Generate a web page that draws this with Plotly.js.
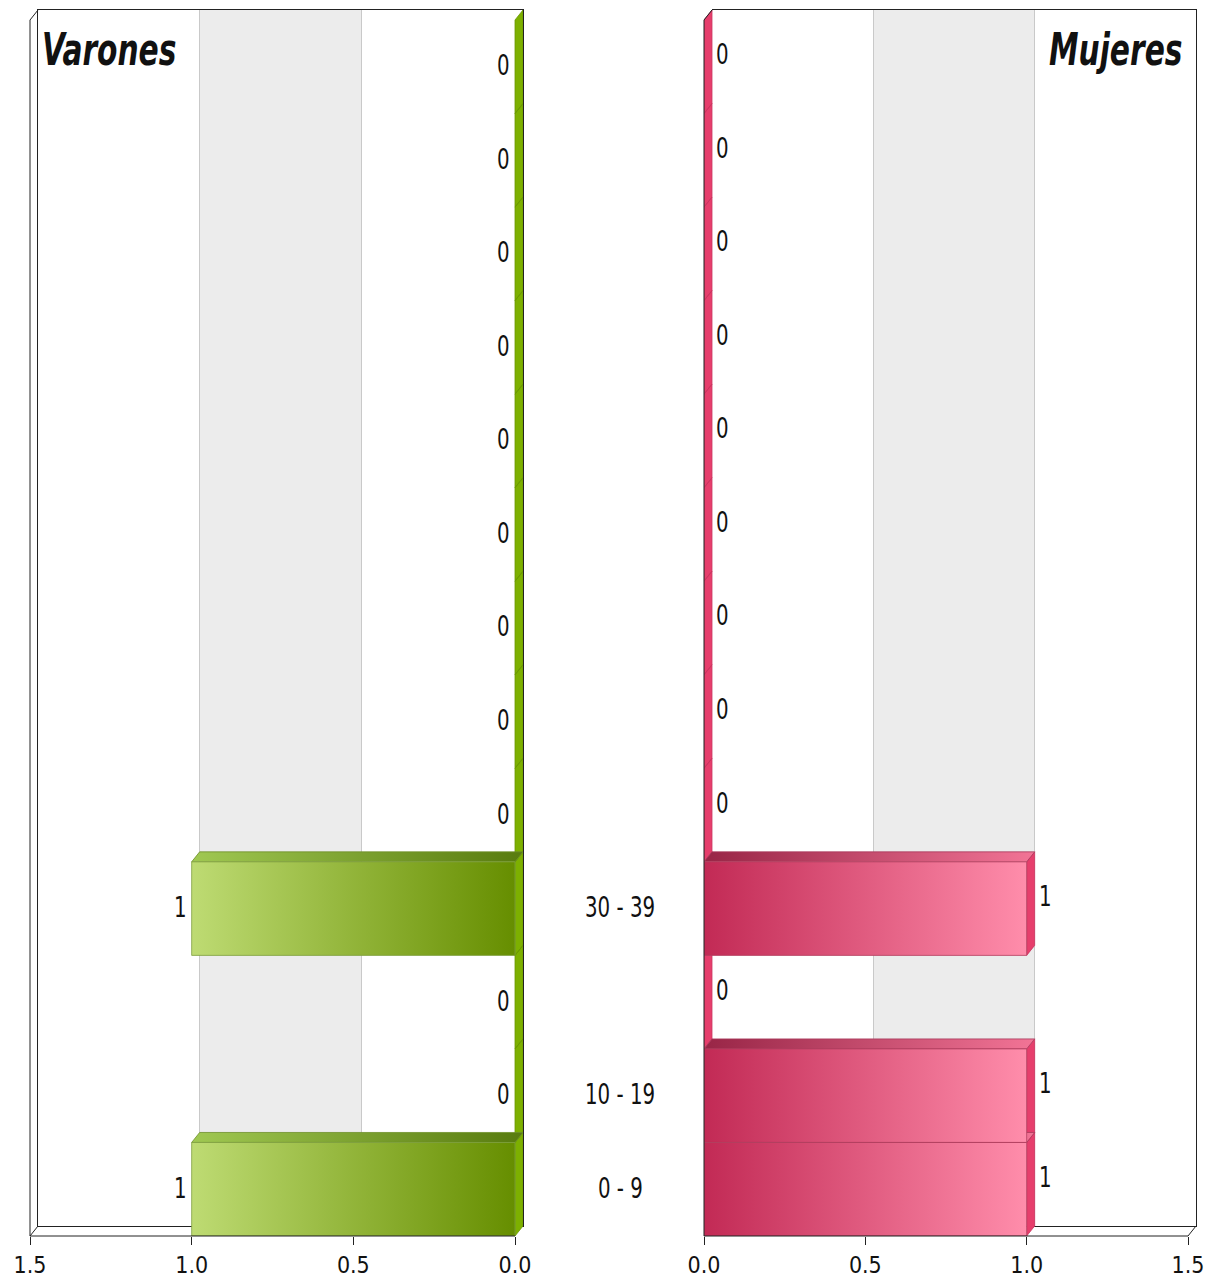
<!DOCTYPE html>
<html><head><meta charset="utf-8">
<script src="https://cdn.plot.ly/plotly-3.0.1.min.js"></script>
<style>html,body{margin:0;padding:0;background:#fff}</style>
</head><body><div id="chart" style="width:1212px;height:1284px"></div>
<script>
// ---------------- data ----------------
const ageGroups = ['0 - 9','10 - 19','20 - 29','30 - 39','40 - 49','50 - 59','60 - 69','70 - 79','80 - 89','90 - 99','100 - 109','110 - 119','120 - 129'];
const varones = [1, 0, 0, 1, 0, 0, 0, 0, 0, 0, 0, 0, 0];
const mujeres = [1, 1, 0, 1, 0, 0, 0, 0, 0, 0, 0, 0, 0];
const panelTitles = ['Varones', 'Mujeres'];
const xTickVals = [0, 0.5, 1.0, 1.5];
const xTickText = ['0.0', '0.5', '1.0', '1.5'];

// ---------------- geometry (pixels) ----------------
const W = 1212, H = 1284;
const LX0 = 30, LX1 = 515;     // left panel front plot (1.5 .. 0)
const RX0 = 704, RX1 = 1188;   // right panel front plot (0 .. 1.5)
const FY0 = 20, FY1 = 1236;    // front plot top/bottom
const DX = 8, DY = 10;         // 3D depth offset
const XMAX = 1.5, N = ageGroups.length;
const px = v => v / W, py = v => 1 - v / H;

// depth expressed in data units
const ddxL = DX * XMAX / (LX1 - LX0);
const ddxR = DX * XMAX / (RX1 - RX0);
const ddy = DY * N / (FY1 - FY0);

const COND = '"DejaVu Sans Condensed", "DejaVu Sans", sans-serif';
const INK = '#111';

function polys(vals, faceFn) {
  const xs = [], ys = [];
  vals.forEach((v, i) => {
    const p = faceFn(v, i);
    if (!p) return;
    p.forEach(pt => { xs.push(pt[0]); ys.push(pt[1]); });
    xs.push(p[0][0]); ys.push(p[0][1]);
    xs.push(null); ys.push(null);
  });
  return {x: xs, y: ys};
}

// Left panel (reversed axis: pixel-right = smaller data value)
const lSide = polys(varones, (v, i) => [[0, i - 0.5], [0, i + 0.5], [-ddxL, i + 0.5 + ddy], [-ddxL, i - 0.5 + ddy]]);
const lTop = polys(varones, (v, i) => v > 0 ? [[v, i + 0.5], [0, i + 0.5], [-ddxL, i + 0.5 + ddy], [v - ddxL, i + 0.5 + ddy]] : null);
const lFront = polys(varones, (v, i) => v > 0 ? [[v, i - 0.5], [0, i - 0.5], [0, i + 0.5], [v, i + 0.5]] : null);
// Right panel
const rSide = polys(mujeres, (v, i) => [[v, i - 0.5], [v, i + 0.5], [v + ddxR, i + 0.5 + ddy], [v + ddxR, i - 0.5 + ddy]]);
const rTop = polys(mujeres, (v, i) => v > 0 ? [[0, i + 0.5], [v, i + 0.5], [v + ddxR, i + 0.5 + ddy], [ddxR, i + 0.5 + ddy]] : null);
const rFront = polys(mujeres, (v, i) => v > 0 ? [[0, i - 0.5], [v, i - 0.5], [v, i + 0.5], [0, i + 0.5]] : null);

function face(d, xa, ya, fill, line, grad) {
  const t = {type: 'scatter', mode: 'lines', x: d.x, y: d.y, xaxis: xa, yaxis: ya,
    fill: 'toself', fillcolor: fill, line: {color: line, width: 0.8},
    hoverinfo: 'skip', showlegend: false, connectgaps: false};
  if (grad) t.fillgradient = {type: 'horizontal', colorscale: grad};
  return t;
}

const traces = [
  face(lSide, 'x3', 'y3', '#7db000', '#6a9800'),
  face(lTop, 'x3', 'y3', '#7da52c', '#6d8f2a', [[0, '#a0c852'], [1, '#587b0e']]),
  face(lFront, 'x3', 'y3', '#93bb40', '#7f9f40', [[0, '#bedb73'], [1, '#668e00']]),
  face(rSide, 'x4', 'y4', '#e63e6c', '#c93560'),
  face(rTop, 'x4', 'y4', '#c94a6c', '#a8385a', [[0, '#982546'], [1, '#f27496']]),
  face(rFront, 'x4', 'y4', '#de5a80', '#b34060', [[0, '#c22a55'], [1, '#ff8dab']])
];

// annotations + per-annotation vertical stretch factor
const annotations = [], stretch = [];
const valFont = {family: COND, size: 22, color: INK};
varones.forEach((v, i) => {
  annotations.push({xref: 'x3', yref: 'y3', x: v, y: i, text: String(v), showarrow: false,
    xanchor: 'right', yanchor: 'middle', xshift: -3, yshift: 1, font: valFont});
  stretch.push(1.25);
});
mujeres.forEach((v, i) => {
  annotations.push({xref: 'x4', yref: 'y4', x: v, y: i, text: String(v), showarrow: false,
    xanchor: 'left', yanchor: 'middle', xshift: DX + 2, yshift: 12, font: valFont});
  stretch.push(1.25);
});
ageGroups.forEach((g, i) => {
  if (varones[i] > 0 || mujeres[i] > 0) {
    annotations.push({xref: 'paper', yref: 'y3', x: px(620), y: i, text: g, showarrow: false,
      xanchor: 'center', yanchor: 'middle', yshift: 1, font: valFont});
    stretch.push(1.25);
  }
});
const titleFont = {family: COND, size: 33, color: INK};
annotations.push({xref: 'paper', yref: 'paper', x: px(40), y: py(50), text: '<b><i>' + panelTitles[0] + '</i></b>',
  showarrow: false, xanchor: 'left', yanchor: 'middle', font: titleFont});
stretch.push(1.36);
annotations.push({xref: 'paper', yref: 'paper', x: px(1184), y: py(50), text: '<b><i>' + panelTitles[1] + '</i></b>',
  showarrow: false, xanchor: 'right', yanchor: 'middle', font: titleFont});
stretch.push(1.36);

const frame = {color: '#222', width: 1};
function pline(x0, y0, x1, y1) {
  return {type: 'line', xref: 'paper', yref: 'paper', x0: px(x0), y0: py(y0), x1: px(x1), y1: py(y1), line: frame, layer: 'above'};
}
const shapes = [
  // back wall bands (between gridlines)
  {type: 'rect', xref: 'x', yref: 'y domain', x0: 0.5, x1: 1.0, y0: 0, y1: 1, fillcolor: '#ececec', line: {width: 0}, layer: 'below'},
  {type: 'rect', xref: 'x2', yref: 'y2 domain', x0: 0.5, x1: 1.0, y0: 0, y1: 1, fillcolor: '#ececec', line: {width: 0}, layer: 'below'},
  // front axis lines
  pline(LX0, FY1, LX1, FY1),
  pline(LX0, FY0, LX0, FY1),
  pline(RX0, FY1, RX1, FY1),
  pline(RX0, FY0, RX0, FY1),
  // depth connectors
  pline(LX0, FY0, LX0 + DX, FY0 - DY),
  pline(LX0, FY1, LX0 + DX, FY1 - DY),
  pline(RX0, FY0, RX0 + DX, FY0 - DY),
  pline(RX1, FY1, RX1 + DX, FY1 - DY)
];

const backAxisX = {tickvals: [0.5, 1.0], showticklabels: false, ticks: '', showgrid: true,
  gridcolor: '#c9c9c9', gridwidth: 1, zeroline: false, showline: true, mirror: true, linecolor: '#222', linewidth: 1, fixedrange: true};
const backAxisY = {range: [-0.5, N - 0.5], showticklabels: false, ticks: '', showgrid: false, zeroline: false,
  linecolor: '#222', linewidth: 1, fixedrange: true};
const frontX = {tickvals: xTickVals, ticktext: xTickText, ticks: 'outside', ticklen: 8, tickcolor: '#222', tickwidth: 1,
  showgrid: false, zeroline: false, showline: false, fixedrange: true,
  tickfont: {family: COND, size: 23, color: INK}};
const frontY = {range: [-0.5, N - 0.5 + ddy], showticklabels: false, ticks: '', showgrid: false, zeroline: false,
  showline: false, fixedrange: true};

const layout = {
  width: W, height: H, margin: {l: 0, r: 0, t: 0, b: 0},
  paper_bgcolor: '#fff', plot_bgcolor: 'rgba(0,0,0,0)', showlegend: false,
  xaxis: Object.assign({}, backAxisX, {domain: [px(LX0 + DX), px(LX1 + DX)], range: [XMAX, 0], anchor: 'y'}),
  yaxis: Object.assign({}, backAxisY, {domain: [py(FY1 - DY), py(FY0 - DY)], anchor: 'x', showline: true, mirror: true}),
  xaxis2: Object.assign({}, backAxisX, {domain: [px(RX0 + DX), px(RX1 + DX)], range: [0, XMAX], anchor: 'y2'}),
  yaxis2: Object.assign({}, backAxisY, {domain: [py(FY1 - DY), py(FY0 - DY)], anchor: 'x2', showline: true, side: 'right'}),
  xaxis3: Object.assign({}, frontX, {domain: [px(LX0), px(LX1 + DX)], range: [XMAX, -ddxL], anchor: 'y3'}),
  yaxis3: Object.assign({}, frontY, {domain: [py(FY1), py(FY0 - DY)], anchor: 'x3'}),
  xaxis4: Object.assign({}, frontX, {domain: [px(RX0), px(RX1 + DX)], range: [0, XMAX + ddxR], anchor: 'y4'}),
  yaxis4: Object.assign({}, frontY, {domain: [py(FY1), py(FY0 - DY)], anchor: 'x4'}),
  shapes: shapes, annotations: annotations
};

Plotly.newPlot('chart', traces, layout, {displayModeBar: false, staticPlot: true}).then(gd => {
  // the original chart uses a tall, narrow lettering: stretch text vertically about its centre
  gd.querySelectorAll('g.annotation').forEach(g => {
    const k = stretch[+g.getAttribute('data-index')];
    const t = g.querySelector('text.annotation-text');
    if (!t || !k) return;
    const b = t.getBBox();
    const cy = b.y + b.height / 2;
    t.setAttribute('transform', `translate(0,${cy}) scale(1,${k}) translate(0,${-cy})`);
  });
});
</script></body></html>
